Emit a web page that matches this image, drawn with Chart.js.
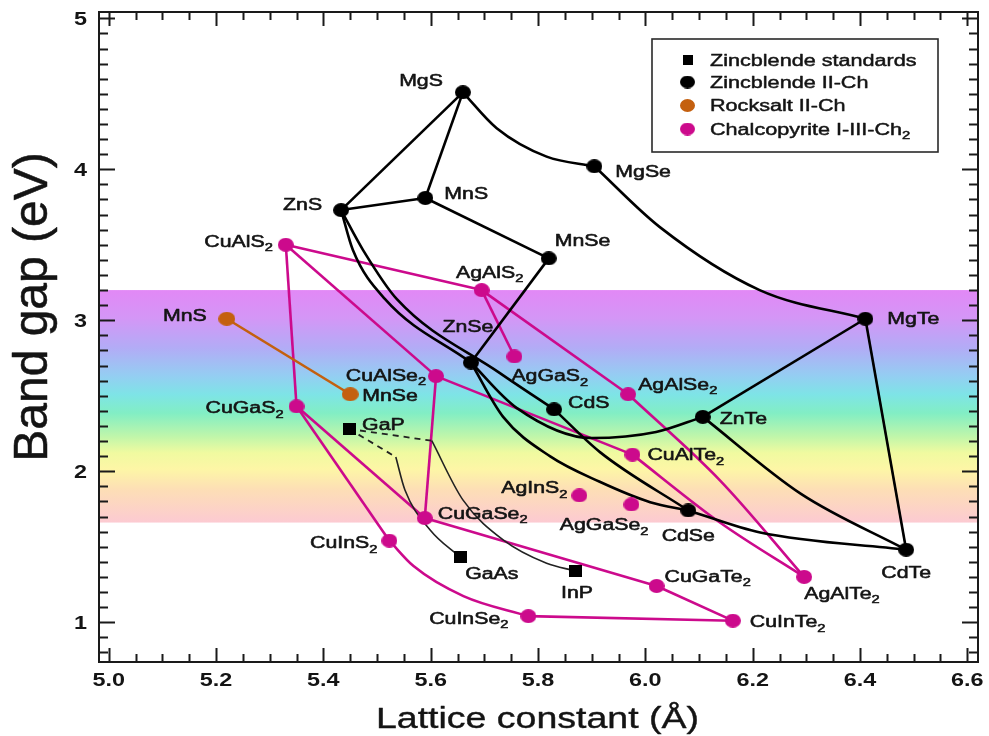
<!DOCTYPE html>
<html>
<head>
<meta charset="utf-8">
<script src="https://cdn.jsdelivr.net/npm/chart.js@4.4.1/dist/chart.umd.min.js"></script>
<style>
  html, body { margin: 0; padding: 0; background: #fff; overflow: hidden; }
  #wrap { position: relative; width: 989px; height: 736px; }
</style>
</head>
<body>
<div id="wrap"><canvas id="chart"></canvas></div>
<script>
// ---- Data: lattice constant (Å) and band gap (eV) ----
// Zincblende III-V standards
const standardNames = ['GaP', 'GaAs', 'InP'];
const standardA     = [5.448, 5.655, 5.869];
const standardGap   = [2.28, 1.43, 1.34];

// Zincblende II-chalcogenides
const zincNames = ['MgS', 'MgSe', 'MnS', 'ZnS', 'MnSe', 'ZnSe', 'CdS', 'ZnTe', 'MgTe', 'CdSe', 'CdTe'];
const zincA     = [5.66, 5.905, 5.59, 5.433, 5.82, 5.675, 5.83, 6.107, 6.41, 6.08, 6.486];
const zincGap   = [4.51, 4.02, 3.81, 3.73, 3.41, 2.72, 2.41, 2.36, 3.01, 1.74, 1.48];

// Rocksalt II-chalcogenides
const rockNames = ['MnS', 'MnSe'];
const rockA     = [5.22, 5.45];
const rockGap   = [3.01, 2.51];

// Chalcopyrite I-III-Ch2
const chalcoNames = ['CuAlS2', 'CuGaS2', 'CuAlSe2', 'AgAlS2', 'AgGaS2', 'AgAlSe2', 'CuAlTe2', 'AgInS2',
                     'AgGaSe2', 'CuGaSe2', 'CuInS2', 'CuGaTe2', 'AgAlTe2', 'CuInSe2', 'CuInTe2'];
const chalcoA     = [5.33, 5.35, 5.61, 5.695, 5.756, 5.968, 5.976, 5.877,
                     5.974, 5.589, 5.523, 6.021, 6.296, 5.782, 6.163];
const chalcoGap   = [3.50, 2.43, 2.63, 3.20, 2.76, 2.51, 2.11, 1.84,
                     1.78, 1.69, 1.54, 1.24, 1.30, 1.04, 1.01];

// Alloy tie lines: [end, end, points along the alloy curve as [a, gap]]
const zincTies = [
  ['MgS', 'ZnS', []],
  ['MgS', 'MnS', []],
  ['MgS', 'MgSe', [[5.723, 4.272], [5.816, 4.084]]],
  ['ZnS', 'MnS', []],
  ['MnS', 'MnSe', []],
  ['MgSe', 'MgTe', [[6.027, 3.617], [6.213, 3.20]]],
  ['MnSe', 'ZnSe', []],
  ['MgTe', 'ZnTe', []],
  ['MgTe', 'CdTe', []],
  ['ZnTe', 'CdTe', [[6.29, 1.85]]],
  ['CdSe', 'CdTe', [[6.214, 1.594]]],
  ['CdS', 'CdSe', [[5.916, 2.125]]],
  ['ZnS', 'ZnSe', [[5.455, 3.465], [5.515, 3.14]]],
  ['ZnS', 'CdS', [[5.474, 3.465], [5.537, 3.14], [5.729, 2.65]]],
  ['ZnSe', 'ZnTe', [[5.76, 2.42], [5.90, 2.22], [6.02, 2.26]]],
  ['ZnSe', 'CdSe', [[5.735, 2.36], [5.822, 2.10], [5.915, 1.93], [6.009, 1.795]]]
];
const rockTies = [['MnS', 'MnSe', []]];
const chalcoTies = [
  ['CuAlS2', 'CuGaS2', []],
  ['CuAlS2', 'AgAlS2', []],
  ['CuAlS2', 'CuAlSe2', []],
  ['CuGaS2', 'CuGaSe2', []],
  ['CuGaS2', 'CuInS2', []],
  ['CuAlSe2', 'CuGaSe2', []],
  ['CuAlSe2', 'CuAlTe2', []],
  ['AgAlS2', 'AgGaS2', []],
  ['AgAlS2', 'AgAlSe2', []],
  ['AgAlSe2', 'AgAlTe2', [[6.139, 1.94]]],
  ['CuAlTe2', 'AgAlTe2', [[6.139, 1.66]]],
  ['CuGaSe2', 'CuGaTe2', []],
  ['CuGaTe2', 'CuInTe2', []],
  ['CuInSe2', 'CuInTe2', []],
  ['CuInS2', 'CuInSe2', [[5.568, 1.372], [5.661, 1.173]]]
];
// III-V alloys: indirect-gap part (dashed) then direct-gap part
const standardTies = [
  ['GaP', 'GaAs', [[5.535, 2.094]], [[5.552, 1.876], [5.599, 1.611]]],
  ['GaP', 'InP',  [[5.602, 2.202]], [[5.66, 1.81], [5.735, 1.545], [5.816, 1.39]]]
];

// Visible spectrum band (eV)
const visibleBand = [1.66, 3.2];

// Axis ticks
const xTickLabels = ['5.0', '5.2', '5.4', '5.6', '5.8', '6.0', '6.2', '6.4', '6.6'];
const yTickLabels = ['1', '2', '3', '4', '5'];
const xTitle = 'Lattice constant (Å)';
const yTitle = 'Band gap (eV)';

// ---- Styles ----
const FONT = '"Liberation Sans", Arial, Helvetica, sans-serif';
const INK = '#141414';
const BLACK = '#000000';
const MAGENTA = '#cc0a8c';
const ORANGE = '#c4600f';

function ellipseMarker(color, w, h) {
  const c = document.createElement('canvas');
  c.width = w; c.height = h;
  const g = c.getContext('2d');
  g.fillStyle = color;
  g.beginPath();
  g.ellipse(w / 2, h / 2, w / 2, h / 2, 0, 0, Math.PI * 2);
  g.fill();
  return c;
}
function squareMarker(color, w, h) {
  const c = document.createElement('canvas');
  c.width = w; c.height = h;
  const g = c.getContext('2d');
  g.fillStyle = color;
  g.fillRect(0, 0, w, h);
  return c;
}

// Label placement for each point: [align, dx, dy]
const labelPlace = {
  zinc: {
    MgS: ['right', -20, -12], MgSe: ['left', 21, 5], MnS: ['left', 19, -5], ZnS: ['right', -19, -6],
    MnSe: ['left', 6, -18], ZnSe: ['center', -3, -36], CdS: ['left', 14, -7], ZnTe: ['left', 17, 1],
    MgTe: ['left', 22, -1], CdSe: ['center', 0, 25], CdTe: ['center', 0, 23]
  },
  rock: { MnS: ['right', -20, -4], MnSe: ['left', 12, 1] },
  standard: { GaP: ['left', 13, -5], GaAs: ['left', 5, 16], InP: ['center', 2, 21] },
  chalco: {
    CuAlS2: ['right', -13, -4], CuGaS2: ['right', -13, 1], CuAlSe2: ['right', -10, -1],
    AgAlS2: ['center', 8, -18], AgGaS2: ['left', -3, 19], AgAlSe2: ['left', 10, -10],
    CuAlTe2: ['left', 15, 0], AgInS2: ['right', -12, -8], AgGaSe2: ['right', 17, 20],
    CuGaSe2: ['left', 13, -5], CuInS2: ['right', -12, 2], CuGaTe2: ['left', 8, -10],
    AgAlTe2: ['left', 0, 16], CuInSe2: ['right', -20, 2], CuInTe2: ['left', 17, 1]
  }
};

// ---- Build datasets ----
function pts(xs, ys) { return xs.map((x, i) => ({ x, y: ys[i] })); }

function tieDatasets(names, xs, ys, ties, color, width) {
  const look = n => { const i = names.indexOf(n); return { x: xs[i], y: ys[i] }; };
  return ties.map(([a, b, mid]) => ({
    type: 'line',
    data: [look(a), ...mid.map(([x, y]) => ({ x, y })), look(b)],
    borderColor: color, borderWidth: width,
    tension: mid.length ? 0.4 : 0,
    cubicInterpolationMode: mid.length ? 'monotone' : 'default',
    pointRadius: 0, fill: false, order: 2, isTie: true
  }));
}

const datasets = [];
// markers (drawn on top)
const markerSets = [
  { key: 'standard', label: 'Zincblende standards', names: standardNames, xs: standardA, ys: standardGap,
    color: BLACK, style: squareMarker(BLACK, 13, 12), legendStyle: squareMarker(BLACK, 10, 10) },
  { key: 'zinc', label: 'Zincblende II-Ch', names: zincNames, xs: zincA, ys: zincGap,
    color: BLACK, style: ellipseMarker(BLACK, 16, 14), legendStyle: ellipseMarker(BLACK, 15, 13) },
  { key: 'rock', label: 'Rocksalt II-Ch', names: rockNames, xs: rockA, ys: rockGap,
    color: ORANGE, style: ellipseMarker(ORANGE, 17, 14), legendStyle: ellipseMarker(ORANGE, 15, 13) },
  { key: 'chalco', label: 'Chalcopyrite I-III-Ch2', names: chalcoNames, xs: chalcoA, ys: chalcoGap,
    color: MAGENTA, style: ellipseMarker(MAGENTA, 16, 14), legendStyle: ellipseMarker(MAGENTA, 15, 13) }
];
markerSets.forEach(m => {
  datasets.push({
    type: 'scatter', label: m.label, data: pts(m.xs, m.ys),
    pointStyle: m.style, pointRadius: 7, backgroundColor: m.color, borderColor: m.color,
    showLine: false, order: 0, markerKey: m.key, pointNames: m.names, legendStyle: m.legendStyle
  });
});
datasets.push(...tieDatasets(zincNames, zincA, zincGap, zincTies, BLACK, 2.6));
datasets.push(...tieDatasets(rockNames, rockA, rockGap, rockTies, ORANGE, 2.6));
datasets.push(...tieDatasets(chalcoNames, chalcoA, chalcoGap, chalcoTies, MAGENTA, 2.6));
standardTies.forEach(([a, b, indirect, direct]) => {
  const ia = standardNames.indexOf(a), ib = standardNames.indexOf(b);
  const start = { x: standardA[ia], y: standardGap[ia] };
  const end = { x: standardA[ib], y: standardGap[ib] };
  const brk = indirect[indirect.length - 1];
  datasets.push({
    type: 'line', data: [start, ...indirect.map(([x, y]) => ({ x, y }))],
    borderColor: '#222', borderWidth: 1.8, borderDash: [6, 5], tension: 0,
    pointRadius: 0, fill: false, order: 1, isTie: true
  });
  datasets.push({
    type: 'line', data: [{ x: brk[0], y: brk[1] }, ...direct.map(([x, y]) => ({ x, y })), end],
    borderColor: '#222', borderWidth: 1.6, tension: 0.4, cubicInterpolationMode: 'monotone',
    pointRadius: 0, fill: false, order: 1, isTie: true
  });
});

// ---- Text helpers ----
function splitFormula(s) {
  const out = [];
  const re = /(\D+)|(\d+)/g;
  let m;
  while ((m = re.exec(s))) out.push([m[0], !!m[2]]);
  return out;
}
// Draw text (with numeric subscripts) whose vertical cap-centre sits at y
function drawRich(ctx, text, x, y, o) {
  const size = o.size, weight = o.weight || 'normal', sx = o.sx || 1;
  const parts = o.plain ? [[text, false]] : splitFormula(text);
  const subSize = Math.round(size * 0.68);
  const fMain = `${weight} ${size}px ${FONT}`;
  const fSub = `${weight} ${subSize}px ${FONT}`;
  let w = 0;
  parts.forEach(([t, s]) => { ctx.font = s ? fSub : fMain; w += ctx.measureText(t).width; });
  let left = x;
  if (o.align === 'center') left = x - (w * sx) / 2;
  else if (o.align === 'right') left = x - w * sx;
  ctx.save();
  ctx.translate(left, y + size * 0.36);
  ctx.scale(sx, 1);
  ctx.fillStyle = o.color || INK;
  ctx.strokeStyle = o.color || INK;
  ctx.lineWidth = o.bolden || 0;
  ctx.lineJoin = 'round';
  ctx.textAlign = 'left';
  ctx.textBaseline = 'alphabetic';
  let cx = 0;
  parts.forEach(([t, s]) => {
    ctx.font = s ? fSub : fMain;
    const ty = s ? size * 0.28 : 0;
    ctx.fillText(t, cx, ty);
    if (o.bolden) ctx.strokeText(t, cx, ty);
    cx += ctx.measureText(t).width;
  });
  ctx.restore();
}

// ---- Plugins ----
const bandPlugin = {
  id: 'visibleBand',
  beforeDatasetsDraw(chart) {
    const { ctx, chartArea: ca, scales: { y } } = chart;
    const top = y.getPixelForValue(visibleBand[1]);
    const bot = y.getPixelForValue(visibleBand[0]);
    const g = ctx.createLinearGradient(0, top, 0, bot);
    g.addColorStop(0.00, 'rgb(226,136,246)');
    g.addColorStop(0.12, 'rgb(212,150,246)');
    g.addColorStop(0.25, 'rgb(178,172,246)');
    g.addColorStop(0.37, 'rgb(148,206,242)');
    g.addColorStop(0.45, 'rgb(126,228,230)');
    g.addColorStop(0.53, 'rgb(130,238,196)');
    g.addColorStop(0.63, 'rgb(192,246,170)');
    g.addColorStop(0.70, 'rgb(240,250,160)');
    g.addColorStop(0.77, 'rgb(253,246,166)');
    g.addColorStop(0.86, 'rgb(253,222,182)');
    g.addColorStop(1.00, 'rgb(252,202,210)');
    ctx.save();
    ctx.fillStyle = g;
    ctx.fillRect(ca.left, top, ca.right - ca.left, bot - top);
    ctx.restore();
  }
};

const framePlugin = {
  id: 'frameAndText',
  afterDatasetsDraw(chart) {
    const { ctx, chartArea: ca, scales: { x, y } } = chart;
    ctx.save();
    // frame
    ctx.strokeStyle = '#1a1a1a';
    ctx.lineWidth = 2;
    ctx.strokeRect(ca.left, ca.top, ca.right - ca.left, ca.bottom - ca.top);
    // x ticks every 0.05, major every 0.2 (inward, bottom and top)
    ctx.beginPath();
    for (let i = 0; i <= 32; i++) {
      const v = 5 + i * 0.05;
      const px = Math.round(x.getPixelForValue(v)) + 0.5;
      const len = i % 4 === 0 ? 14 : 8;
      ctx.moveTo(px, ca.bottom); ctx.lineTo(px, ca.bottom - len);
      ctx.moveTo(px, ca.top); ctx.lineTo(px, ca.top + len);
    }
    // y ticks every 0.1, major every 1 (inward, left and right)
    for (let i = 8; i <= 50; i++) {
      const v = i / 10;
      const py = Math.round(y.getPixelForValue(v)) + 0.5;
      if (py < ca.top + 1 || py > ca.bottom - 1) continue;
      const len = i % 10 === 0 ? 16 : 9;
      ctx.moveTo(ca.left, py); ctx.lineTo(ca.left + len, py);
      ctx.moveTo(ca.right, py); ctx.lineTo(ca.right - len, py);
    }
    ctx.stroke();
    ctx.restore();

    // tick labels
    xTickLabels.forEach(t => {
      drawRich(ctx, t, x.getPixelForValue(parseFloat(t)), ca.bottom + 18,
        { size: 18, weight: 'bold', sx: 1.3, align: 'center', plain: true });
    });
    yTickLabels.forEach(t => {
      drawRich(ctx, t, ca.left - 12, y.getPixelForValue(parseFloat(t)),
        { size: 18, weight: 'bold', sx: 1.3, align: 'right', plain: true });
    });
    // axis titles
    drawRich(ctx, xTitle, (ca.left + ca.right) / 2 - 1, 717,
      { size: 30, sx: 1.25, align: 'center', plain: true, bolden: 0.4 });
    ctx.save();
    ctx.translate(30, 307);
    ctx.rotate(-Math.PI / 2);
    drawRich(ctx, yTitle, 0, 0, { size: 48, sx: 1, align: 'center', plain: true, bolden: 0.5 });
    ctx.restore();

    // point labels
    chart.data.datasets.forEach((ds, di) => {
      if (!ds.markerKey) return;
      const meta = chart.getDatasetMeta(di);
      const place = labelPlace[ds.markerKey];
      meta.data.forEach((el, i) => {
        const name = ds.pointNames[i];
        const [align, dx, dy] = place[name];
        drawRich(ctx, name, el.x + dx, el.y + dy, { size: 16, sx: 1.33, align, bolden: 0.55 });
      });
    });

    // legend
    const lx = 652, ly = 39, lw = 286, lh = 113;
    ctx.save();
    ctx.fillStyle = '#fff';
    ctx.fillRect(lx, ly, lw, lh);
    ctx.strokeStyle = '#2a2a2a';
    ctx.lineWidth = 1.6;
    ctx.strokeRect(lx, ly, lw, lh);
    ctx.restore();
    const rows = [60, 82, 105.5, 129];
    chart.data.datasets.filter(d => d.markerKey).forEach((ds, r) => {
      const img = ds.legendStyle;
      ctx.drawImage(img, 687.5 - img.width / 2, rows[r] - img.height / 2);
      drawRich(ctx, ds.label, 710, rows[r], { size: 16, sx: 1.35, align: 'left', bolden: 0.45 });
    });
  }
};

new Chart(document.getElementById('chart'), {
  data: { datasets },
  options: {
    responsive: true,
    maintainAspectRatio: false,
    animation: false,
    layout: { padding: { left: 99, right: 11, top: 12, bottom: 74 } },
    scales: {
      x: { type: 'linear', min: 4.9819, max: 6.6199, display: false },
      y: { type: 'linear', min: 0.7363, max: 5.042, display: false }
    },
    plugins: { legend: { display: false }, tooltip: { enabled: false } }
  },
  plugins: [bandPlugin, framePlugin]
});
</script>
</body>
</html>
